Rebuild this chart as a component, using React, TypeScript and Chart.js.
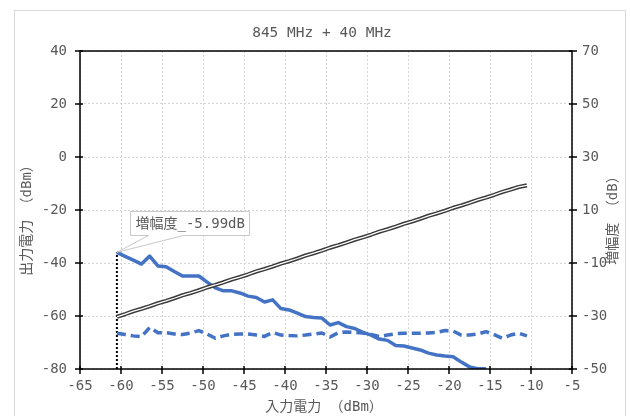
import React, { useEffect, useRef } from "react";
import { Chart, registerables } from "chart.js";

Chart.register(...registerables);

// ---- text ----
const TITLE = "845 MHz + 40 MHz";
const X_TITLE = "入力電力 （dBm）";
const Y_TITLE = "出力電力 （dBm）";
const Y2_TITLE = "増幅度 （dB）";
const CALLOUT_PREFIX = "増幅度_";

// ---- axis ranges [min, max, step] ----
const X_RANGE = [-65, -5, 5];
const Y_RANGE = [-80, 40, 20];
const Y2_RANGE = [-50, 70, 20];

// ---- data ----
const inputPower = [
  -60.5, -59.5, -58.5, -57.5, -56.5, -55.5, -54.5, -53.5, -52.5, -51.5,
  -50.5, -49.5, -48.5, -47.5, -46.5, -45.5, -44.5, -43.5, -42.5, -41.5,
  -40.5, -39.5, -38.5, -37.5, -36.5, -35.5, -34.5, -33.5, -32.5, -31.5,
  -30.5, -29.5, -28.5, -27.5, -26.5, -25.5, -24.5, -23.5, -22.5, -21.5,
  -20.5, -19.5, -18.5, -17.5, -16.5, -15.5, -14.5, -13.5, -12.5, -11.5,
  -10.5,
];

// output power (left axis, dBm)
const outputPower = [
  -60.3, -59.3, -58.2, -57.3, -56.3, -55.2, -54.3, -53.3, -52.2, -51.3,
  -50.3, -49.2, -48.3, -47.3, -46.2, -45.3, -44.3, -43.2, -42.3, -41.3,
  -40.2, -39.3, -38.3, -37.2, -36.3, -35.3, -34.2, -33.3, -32.3, -31.2,
  -30.3, -29.3, -28.2, -27.3, -26.3, -25.2, -24.3, -23.3, -22.2, -21.3,
  -20.3, -19.2, -18.3, -17.3, -16.2, -15.3, -14.3, -13.2, -12.3, -11.3,
  -10.7,
];

// gain (right axis, dB)
const gain = [
  -5.99, -7.5, -8.9, -10.4, -7.4, -11.1, -11.4, -13.2, -14.9, -14.9,
  -14.9, -17.2, -19.4, -20.5, -20.5, -21.3, -22.5, -23.0, -24.7, -23.9,
  -27.2, -27.7, -28.9, -30.2, -30.6, -30.8, -33.4, -32.5, -34.0, -34.7,
  -36.2, -37.2, -38.7, -39.2, -41.1, -41.3, -42.1, -42.8, -44.0, -44.7,
  -45.1, -45.4, -47.4, -49.2, -49.9, -49.9,
];

// dashed series (left axis, dBm)
const thirdSeries = [
  -66.5, -67.0, -67.5, -67.8, -64.3, -66.3, -66.3, -66.8, -67.0, -66.4,
  -65.5, -66.8, -68.4, -67.5, -66.9, -66.8, -66.8, -67.2, -67.7, -66.2,
  -67.2, -67.4, -67.5, -67.2, -66.8, -66.4, -67.9, -66.3, -66.0, -66.2,
  -66.4, -67.0, -67.7, -67.2, -66.7, -66.5, -66.5, -66.5, -66.4, -66.2,
  -65.5, -65.7, -67.2, -67.2, -66.8, -65.9, -67.0, -68.4, -67.2, -66.5,
  -67.5,
];

const BLUE = "#4472C4";
const GRAY_TEXT = "#595959";
const MONO = '"DejaVu Sans Mono", "Noto Sans CJK JP", monospace';

const pts = (ys: number[]) => ys.map((y, i) => ({ x: inputPower[i], y }));

const GAIN_INDEX = 2;

const decorPlugin = {
  id: "decor",
  beforeDraw(chart: any) {
    const { ctx, width, height } = chart;
    ctx.save();
    ctx.fillStyle = "#ffffff";
    ctx.fillRect(0, 0, width, height);
    ctx.strokeStyle = "#d9d9d9";
    ctx.lineWidth = 1;
    ctx.strokeRect(14.5, 10.5, 611, 430);
    ctx.restore();
  },
  afterDraw(chart: any) {
    const { ctx, chartArea: ca, scales } = chart;
    ctx.save();
    // plot box
    ctx.strokeStyle = "#000";
    ctx.lineWidth = 1.5;
    ctx.strokeRect(ca.left, ca.top, ca.right - ca.left, ca.bottom - ca.top);
    // crossing tick marks
    ctx.lineWidth = 1.5;
    ctx.beginPath();
    for (const t of scales.x.ticks) {
      const p = scales.x.getPixelForValue(t.value);
      ctx.moveTo(p, ca.bottom - 3);
      ctx.lineTo(p, ca.bottom + 5);
    }
    for (const t of scales.y.ticks) {
      const p = scales.y.getPixelForValue(t.value);
      ctx.moveTo(ca.left - 5, p);
      ctx.lineTo(ca.left + 3, p);
    }
    for (const t of scales.y2.ticks) {
      const p = scales.y2.getPixelForValue(t.value);
      ctx.moveTo(ca.right - 3, p);
      ctx.lineTo(ca.right + 5, p);
    }
    ctx.stroke();

    // titles
    ctx.fillStyle = GRAY_TEXT;
    ctx.textAlign = "center";
    ctx.textBaseline = "middle";
    ctx.font = `14.5px ${MONO}`;
    ctx.fillText(TITLE, 322, 33);
    ctx.font = `14px ${MONO}`;
    ctx.fillText(X_TITLE, (ca.left + ca.right) / 2 - 2, 407);
    ctx.save();
    ctx.translate(27, 217);
    ctx.rotate(-Math.PI / 2);
    ctx.fillText(Y_TITLE, 0, 0);
    ctx.restore();
    ctx.save();
    ctx.translate(613, 217);
    ctx.rotate(-Math.PI / 2);
    ctx.fillText(Y2_TITLE, 0, 0);
    ctx.restore();

    // callout for first gain point
    const meta = chart.getDatasetMeta(GAIN_INDEX);
    const pt = meta.data[0];
    if (pt) {
      const px = pt.x;
      const py = pt.y;
      const label = `${CALLOUT_PREFIX}${gain[0].toFixed(2)}dB`;
      ctx.font = `14px ${MONO}`;
      const tw = ctx.measureText(label).width;
      const bx = Math.round(px + 13) + 0.5;
      const by = Math.round(py - 41) + 0.5;
      const bw = Math.round(tw + 10);
      const bh = 24;
      ctx.strokeStyle = "#c8c8c8";
      ctx.fillStyle = "#ffffff";
      ctx.lineWidth = 1;
      ctx.beginPath();
      ctx.moveTo(bx, by);
      ctx.lineTo(bx + bw, by);
      ctx.lineTo(bx + bw, by + bh);
      ctx.lineTo(bx + 53, by + bh);
      ctx.lineTo(px, py);
      ctx.lineTo(bx + 18, by + bh);
      ctx.lineTo(bx, by + bh);
      ctx.closePath();
      ctx.fill();
      ctx.stroke();
      ctx.fillStyle = GRAY_TEXT;
      ctx.textAlign = "left";
      ctx.textBaseline = "middle";
      ctx.fillText(label, bx + 5, by + bh / 2 + 1);
    }
    ctx.restore();
  },
};

export default function App() {
  const ref = useRef<HTMLCanvasElement | null>(null);

  useEffect(() => {
    if (!ref.current) return;
    const tickFont = { family: MONO, size: 14 };
    const chart = new Chart(ref.current, {
      type: "line",
      data: {
        datasets: [
          {
            label: "出力電力 inner",
            data: pts(outputPower),
            yAxisID: "y",
            borderColor: "#ffffff",
            borderWidth: 1.3,
            pointRadius: 0,
            order: 0,
          },
          {
            label: "出力電力",
            data: pts(outputPower),
            yAxisID: "y",
            borderColor: "#3a3a3a",
            borderWidth: 4.2,
            pointRadius: 0,
            order: 1,
          },
          {
            label: "増幅度",
            data: pts(gain),
            yAxisID: "y2",
            borderColor: BLUE,
            borderWidth: 3.5,
            pointRadius: 0,
            order: 2,
          },
          {
            label: "series3",
            data: pts(thirdSeries),
            yAxisID: "y",
            borderColor: BLUE,
            borderWidth: 3.5,
            borderDash: [9, 5],
            pointRadius: 0,
            order: 3,
          },
          {
            label: "marker",
            data: [
              { x: inputPower[0], y: Y2_RANGE[0] },
              { x: inputPower[0], y: gain[0] },
            ],
            yAxisID: "y2",
            borderColor: "#000000",
            borderWidth: 2,
            borderDash: [2, 2],
            pointRadius: 0,
            order: 4,
          },
        ],
      },
      options: {
        responsive: false,
        animation: false,
        layout: { padding: { top: 51, left: 0, right: 0, bottom: 0 } },
        plugins: {
          legend: { display: false },
          title: { display: false },
          tooltip: { enabled: false },
        },
        elements: { line: { tension: 0, borderCapStyle: "butt", borderJoinStyle: "round" } },
        scales: {
          x: {
            type: "linear",
            position: "bottom",
            min: X_RANGE[0],
            max: X_RANGE[1],
            afterFit: (s: any) => {
              s.height = 47;
            },
            ticks: {
              stepSize: X_RANGE[2],
              color: GRAY_TEXT,
              font: tickFont,
              padding: 9,
              maxRotation: 0,
              autoSkip: false,
            },
            grid: { color: "#d4d4d4", drawTicks: false, lineWidth: 1 },
            border: { display: false, dash: [2, 2] },
          },
          y: {
            type: "linear",
            position: "left",
            min: Y_RANGE[0],
            max: Y_RANGE[1],
            afterFit: (s: any) => {
              s.width = 80;
            },
            ticks: {
              stepSize: Y_RANGE[2],
              color: GRAY_TEXT,
              font: tickFont,
              padding: 13,
              autoSkip: false,
            },
            grid: { color: "#d4d4d4", drawTicks: false, lineWidth: 1 },
            border: { display: false, dash: [2, 2] },
          },
          y2: {
            type: "linear",
            position: "right",
            min: Y2_RANGE[0],
            max: Y2_RANGE[1],
            afterFit: (s: any) => {
              s.width = 58;
            },
            ticks: {
              stepSize: Y2_RANGE[2],
              color: GRAY_TEXT,
              font: tickFont,
              padding: 10,
              autoSkip: false,
            },
            grid: { drawOnChartArea: false, drawTicks: false },
            border: { display: false },
          },
        },
      },
      plugins: [decorPlugin],
    } as any);
    return () => chart.destroy();
  }, []);

  return (
    <div style={{ position: "absolute", left: 0, top: 0, width: 630, height: 416 }}>
      <canvas ref={ref} width={630} height={416} style={{ display: "block" }} />
    </div>
  );
}
